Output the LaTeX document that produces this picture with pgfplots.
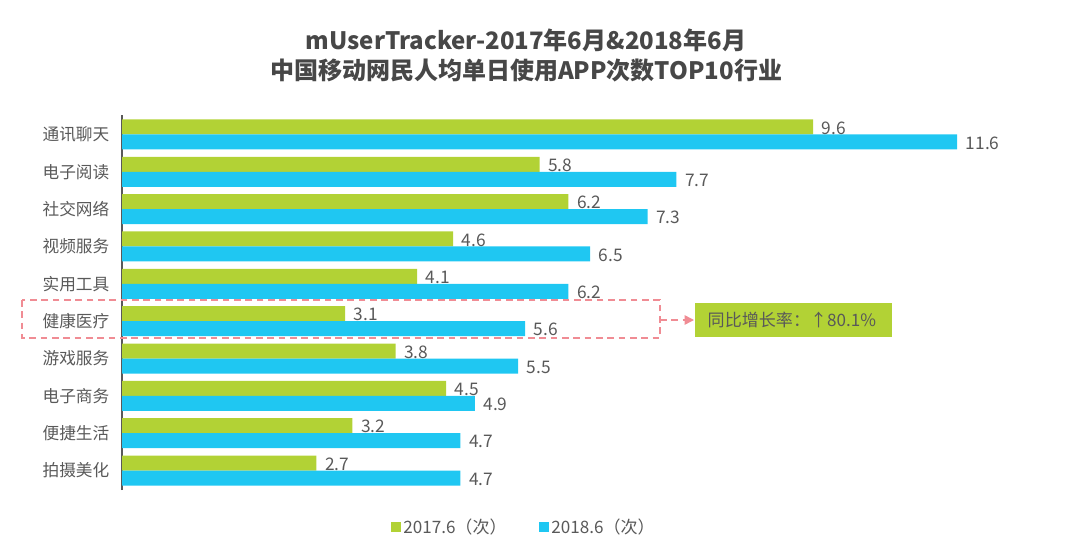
\documentclass[border=0pt]{standalone}
\usepackage{pgfplots}
\pgfplotsset{compat=1.18}
\usepackage{fontspec}
\setmainfont{Noto Sans CJK SC}
\usetikzlibrary{arrows.meta}
\definecolor{cgreen}{HTML}{B2D235}
\definecolor{cblue}{HTML}{1FC7F2}
\definecolor{ctext}{HTML}{595959}
\definecolor{cred}{HTML}{F08C94}
\begin{document}
\begin{tikzpicture}
\path[use as bounding box] (0,0) rectangle (810pt,408pt);
\begin{axis}[
  at={(91.5pt,40.5pt)}, anchor=south west,
  scale only axis, width=702pt, height=281.25pt,
  xmin=0, xmax=13, ymin=-0.52, ymax=9.52,
  xbar, bar width=11.25pt,
  axis x line=none, axis y line*=left,
  y axis line style={draw=ctext, line width=0.8pt, -},
  ytick={0,...,9}, major tick length=0pt,
  yticklabels={拍摄美化,便捷生活,电子商务,游戏服务,健康医疗,实用工具,视频服务,社交网络,电子阅读,通讯聊天},
  yticklabel style={font=\fontsize{12.5}{14}\selectfont, text=ctext, xshift=-6pt},
  /pgf/number format/assume math mode=true,
  nodes near coords={\pgfmathprintnumber[fixed,fixed zerofill,precision=1]{\pgfplotspointmeta}},
  nodes near coords style={font=\fontsize{13}{14}\selectfont, text=ctext, anchor=west, xshift=3pt, yshift=-0.8pt},
  legend style={at={(0.4295,-0.0987)}, anchor=center, draw=none, fill=none,
    legend columns=2, font=\fontsize{12.8}{14}\selectfont, text=ctext,
    /tikz/every even column/.append style={column sep=22pt}},
  legend image code/.code={\fill[#1] (0pt,-3.8pt) rectangle (7.6pt,3.8pt);},
]
\addplot[draw=none, fill=cgreen, bar shift=5.625pt] coordinates {
(9.6,9) (5.8,8) (6.2,7) (4.6,6) (4.1,5) (3.1,4) (3.8,3) (4.5,2) (3.2,1) (2.7,0)};
\addplot[draw=none, fill=cblue, bar shift=-5.625pt] coordinates {
(11.6,9) (7.7,8) (7.3,7) (6.5,6) (6.2,5) (5.6,4) (5.5,3) (4.9,2) (4.7,1) (4.7,0)};
\legend{2017.6（次）,2018.6（次）}
\end{axis}
\begin{scope}[x=0.75pt,y=0.75pt]
\node[font=\bfseries\fontsize{18}{20}\selectfont, text=ctext!80!black] at (526,504) {mUserTracker-2017年6月\&2018年6月};
\node[font=\bfseries\fontsize{18}{20}\selectfont, text=ctext!80!black] at (526,474) {中国移动网民人均单日使用APP次数TOP10行业};
\draw[cred, dash pattern=on 5pt off 3.5pt, line width=1pt] (22,244) rectangle (660,206);
\draw[cred, dash pattern=on 5pt off 3.5pt, line width=1.1pt, -{Triangle[length=7pt,width=7pt]}] (660,224) -- (694,224);
\fill[cgreen] (695,241) rectangle (892,207);
\node[anchor=west, font=\fontsize{12.8}{14}\selectfont, text=ctext] at (703,224) {同比增长率：↑80.1\%};
\end{scope}
\end{tikzpicture}
\end{document}
